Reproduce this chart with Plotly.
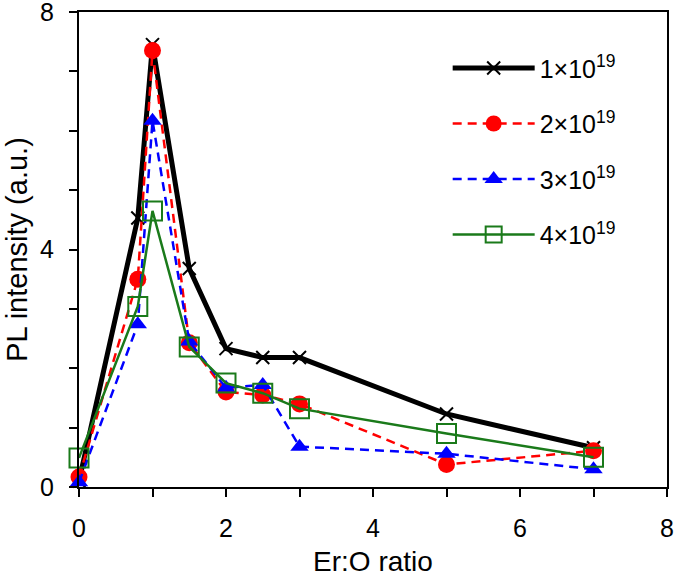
import plotly.graph_objects as go

er_o_ratio = [0, 0.8, 1, 1.5, 2, 2.5, 3, 5, 7]
pl_1e19 = [0.10, 4.53, 7.45, 3.68, 2.33, 2.18, 2.18, 1.23, 0.66]
pl_2e19 = [0.17, 3.50, 7.35, 2.43, 1.60, 1.55, 1.40, 0.38, 0.61]
pl_3e19 = [0.08, 2.74, 6.17, 2.45, 1.67, 1.72, 0.68, 0.56, 0.30]
pl_4e19 = [0.49, 3.04, 4.65, 2.36, 1.75, 1.58, 1.32, 0.90, 0.50]
series_names = ["1×10<sup>19</sup>", "2×10<sup>19</sup>", "3×10<sup>19</sup>", "4×10<sup>19</sup>"]

FONT = "Liberation Sans, Arial, sans-serif"

fig = go.Figure()
fig.add_trace(go.Scatter(
    x=er_o_ratio, y=pl_1e19, name=series_names[0], legendgroup="a",
    mode="lines+markers", cliponaxis=False,
    line=dict(color="black", width=5),
    marker=dict(symbol="x-thin", size=13, line=dict(color="black", width=2)),
))
fig.add_trace(go.Scatter(
    x=er_o_ratio, y=pl_2e19, name=series_names[1], legendgroup="b",
    mode="lines+markers", cliponaxis=False,
    line=dict(color="#ff0000", width=2.5, dash="9px,6px"),
    marker=dict(symbol="circle", size=17, color="#ff0000"),
))
fig.add_trace(go.Scatter(
    x=er_o_ratio, y=pl_3e19, name=series_names[2], legendgroup="c",
    mode="lines+markers", cliponaxis=False,
    line=dict(color="#0000ff", width=2.5, dash="9px,6px"),
    marker=dict(symbol="triangle-up", size=16, color="#0000ff"),
))
fig.add_trace(go.Scatter(
    x=er_o_ratio, y=pl_4e19, name=series_names[3], legendgroup="d",
    mode="lines+markers", cliponaxis=False,
    line=dict(color="#1a7a1a", width=2.5),
    marker=dict(symbol="square-open", size=19, color="#1a7a1a", line=dict(width=2)),
))

axis_common = dict(
    showline=True, linecolor="black", linewidth=2, mirror=True,
    ticks="outside", ticklen=8, tickwidth=2, tickcolor="black",
    showgrid=False, zeroline=False, automargin=False,
    ticklabeloverflow="allow", ticklabelstandoff=10,
    tickfont=dict(family=FONT, size=25, color="black"),
)

fig.update_xaxes(
    range=[0, 8], dtick=2, tick0=0,
    minor=dict(dtick=1, ticks="outside", ticklen=8, tickwidth=2, tickcolor="black"),
    title=dict(text="Er:O ratio", font=dict(family=FONT, size=28, color="black"), standoff=13),
    **axis_common,
)
fig.update_yaxes(
    range=[0, 8], dtick=4, tick0=0,
    minor=dict(dtick=1, ticks="outside", ticklen=8, tickwidth=2, tickcolor="black"),
    title=dict(text="PL intensity (a.u.)", font=dict(family=FONT, size=29, color="black"), standoff=4),
    **axis_common,
)

fig.update_layout(
    width=675, height=577,
    margin=dict(l=79, r=8, t=12, b=90),
    plot_bgcolor="white", paper_bgcolor="white",
    showlegend=True,
    legend=dict(
        x=0.627, y=0.93, xanchor="left", yanchor="top",
        font=dict(family=FONT, size=25, color="black"),
        bgcolor="rgba(0,0,0,0)", tracegroupgap=20, itemwidth=82,
        traceorder="grouped",
    ),
)

fig.write_html(
    "out.html",
    config={"displayModeBar": False},
    post_script="document.body.style.margin='0px';",
)
